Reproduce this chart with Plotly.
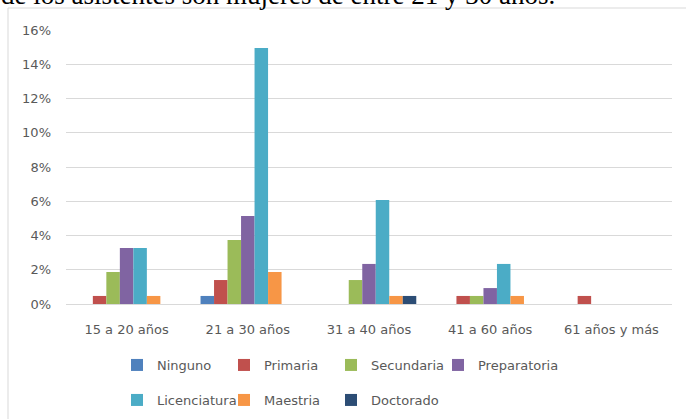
import plotly.graph_objects as go

categories = ["15 a 20 años", "21 a 30 años", "31 a 40 años", "41 a 60 años", "61 años y más"]
series_names = ["Ninguno", "Primaria", "Secundaria", "Preparatoria", "Licenciatura", "Maestria", "Doctorado"]
ninguno = [0.0, 0.0047, 0.0, 0.0, 0.0]
primaria = [0.0047, 0.0140, 0.0, 0.0047, 0.0047]
secundaria = [0.0187, 0.0374, 0.0140, 0.0047, 0.0]
preparatoria = [0.0327, 0.0514, 0.0234, 0.0093, 0.0]
licenciatura = [0.0327, 0.1495, 0.0607, 0.0234, 0.0]
maestria = [0.0047, 0.0187, 0.0047, 0.0047, 0.0]
doctorado = [0.0, 0.0, 0.0047, 0.0, 0.0]
series_values = [ninguno, primaria, secundaria, preparatoria, licenciatura, maestria, doctorado]
colors = ["#4F81BD", "#C0504D", "#9BBB59", "#8064A2", "#4BACC6", "#F79646", "#2C4D75"]
y_ticks = [0, 0.02, 0.04, 0.06, 0.08, 0.10, 0.12, 0.14, 0.16]

FONT = "DejaVu Sans"
GREY = "#595959"

fig = go.Figure()
for i, (name, vals, col) in enumerate(zip(series_names, series_values, colors)):
    fig.add_trace(go.Bar(
        x=categories, y=vals, name=name, marker=dict(color=col, line=dict(width=0)),
        legend="legend" if i < 4 else "legend2",
        legendwidth=110 if i in (3, 6) else None,
    ))

W, H = 686, 419
ml, mr, mt, mb = 66, 14, 30, 115
pw, ph = W - ml - mr, H - mt - mb

def px_x(x):
    return (x - ml) / pw

def px_y(y):
    return (H - mb - y) / ph

def cont_y(y):
    return (H - y) / H

legend_common = dict(
    orientation="h", xanchor="left", yanchor="middle",
    xref="paper", yref="container",
    font=dict(family=FONT, size=13, color=GREY),
    entrywidth=62, entrywidthmode="pixels", itemsizing="constant",
    bgcolor="rgba(0,0,0,0)", traceorder="normal",
)

fig.update_layout(
    width=W, height=H,
    margin=dict(l=ml, r=mr, t=mt, b=mb, pad=0),
    paper_bgcolor="white", plot_bgcolor="white",
    barmode="group", bargap=0.22, bargroupgap=0,
    font=dict(family=FONT, size=13, color=GREY),
    legend=dict(x=px_x(117), y=cont_y(365), **legend_common),
    legend2=dict(x=px_x(117), y=cont_y(400), **legend_common),
    xaxis=dict(showgrid=False, showline=False, ticks="", ticklabelstandoff=16,
               tickfont=dict(family=FONT, size=13, color=GREY)),
    yaxis=dict(range=[0, 0.16], tickvals=y_ticks, tickformat=".0%",
               showgrid=True, gridcolor="#D9D9D9", gridwidth=1,
               zeroline=True, zerolinecolor="#D9D9D9", zerolinewidth=1,
               showline=False, ticks="", ticklabelstandoff=14,
               tickfont=dict(family=FONT, size=13, color=GREY)),
    showlegend=True,
)

fig.add_shape(type="rect", xref="paper", yref="paper",
              x0=px_x(8), x1=px_x(700), y0=px_y(440), y1=px_y(8),
              line=dict(color="#D9D9D9", width=1), fillcolor="rgba(0,0,0,0)", layer="below")

fig.add_annotation(text="de los asistentes son mujeres de entre 21 y 30 años.",
                   xref="paper", yref="paper", x=px_x(0), y=px_y(-5.5),
                   xanchor="left", yanchor="middle", showarrow=False, borderpad=0,
                   font=dict(family="Liberation Serif", size=27, color="black"))

fig.write_html("out.html", config={"displayModeBar": False},
               post_script="document.body.style.margin='0px';")
